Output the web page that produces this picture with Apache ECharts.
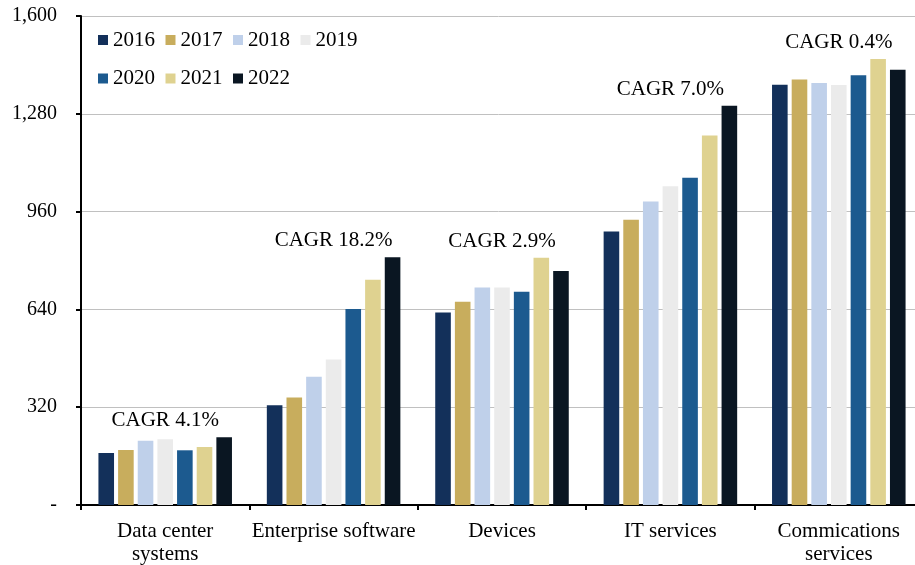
<!DOCTYPE html>
<html lang="en">
<head>
    <meta charset="utf-8">
    <title>Segment spend by year</title>
    <style type="text/css">
        html, body { margin: 0; padding: 0; background: #fff; }
        #page { width: 915px; height: 565px; }
    </style>
</head>
<body>
<div id="page"></div>
<script src="https://cdn.jsdelivr.net/npm/echarts@6/dist/echarts.min.js"></script>
<script>
    // categories and years
    var categories = ['Data center\nsystems', 'Enterprise software', 'Devices', 'IT services', 'Commications\nservices'];
    var years = ['2016', '2017', '2018', '2019', '2020', '2021', '2022'];

    // values per year, one per category
    var v2016 = [170, 326, 630, 895, 1375];
    var v2017 = [180, 352, 665, 933, 1392];
    var v2018 = [210, 420, 712, 993, 1381];
    var v2019 = [215, 476, 712, 1043, 1374];
    var v2020 = [179, 641, 698, 1071, 1406];
    var v2021 = [190, 737, 809, 1209, 1459];
    var v2022 = [222, 811, 766, 1306, 1424];

    var cagr = ['CAGR 4.1%', 'CAGR 18.2%', 'CAGR 2.9%', 'CAGR 7.0%', 'CAGR 0.4%'];

    // y axis ticks
    var yMin = 0, yMax = 1600, yStep = 320;

    (function () {
        var font = "'Liberation Serif', 'Times New Roman', serif";
        var colors = ['#13305a', '#c8ad5d', '#bfd0ea', '#ebebeb', '#1c5a8f', '#dfd290', '#0a1622'];
        var values = [v2016, v2017, v2018, v2019, v2020, v2021, v2022];

        var series = years.map(function (y, i) {
            return {
                name: y,
                type: 'bar',
                data: values[i],
                barWidth: 15.6,
                barGap: '26%',
                itemStyle: {color: colors[i]},
                silent: true
            };
        });

        // CAGR note sits above the tallest bar of each group
        var tops = categories.map(function (c, k) {
            var m = 0;
            values.forEach(function (arr) { m = Math.max(m, arr[k]); });
            return [k, m];
        });
        series.push({
            name: 'cagr',
            type: 'scatter',
            data: tops,
            symbolSize: 0,
            silent: true,
            itemStyle: {opacity: 1},
            label: {
                show: true,
                position: 'top',
                distance: 6,
                color: '#000',
                opacity: 1,
                fontFamily: font,
                fontSize: 21,
                formatter: function (p) { return cagr[p.dataIndex]; }
            }
        });

        var legendBase = {
            orient: 'horizontal',
            left: 98,
            padding: 0,
            itemWidth: 10,
            itemHeight: 10,
            itemGap: 10.5,
            icon: 'rect',
            selectedMode: false,
            textStyle: {fontFamily: font, fontSize: 21, color: '#000', padding: [0, 0, 0, 0]}
        };

        var myChart = echarts.init(document.getElementById('page'), null, {renderer: 'canvas'});
        myChart.setOption({
            animation: false,
            color: colors,
            grid: {left: 81, top: 16, width: 842, bottom: 60, containLabel: false, outerBoundsMode: 'none'},
            legend: [
                echarts.util.extend({top: 29.5, data: years.slice(0, 4)}, legendBase),
                echarts.util.extend({top: 68, data: years.slice(4)}, legendBase)
            ],
            xAxis: {
                type: 'category',
                data: categories,
                axisLine: {lineStyle: {color: '#000', width: 2}},
                axisTick: {show: true, length: 5, interval: 0, lineStyle: {color: '#000', width: 2}},
                axisLabel: {
                    interval: 0,
                    margin: 15,
                    color: '#000',
                    fontFamily: font,
                    fontSize: 21,
                    lineHeight: 23
                }
            },
            yAxis: {
                type: 'value',
                min: yMin,
                max: yMax,
                interval: yStep,
                axisLine: {show: true, lineStyle: {color: '#000', width: 2}},
                axisTick: {show: true, length: 5, lineStyle: {color: '#000', width: 2}},
                splitLine: {lineStyle: {color: '#c0c0c0', width: 1}},
                axisLabel: {
                    margin: 24,
                    color: '#000',
                    fontFamily: font,
                    fontSize: 20,
                    formatter: function (v) {
                        return v === 0 ? '-' : v.toLocaleString('en-US');
                    }
                }
            },
            series: series
        });
    })();
</script>
</body>
</html>
